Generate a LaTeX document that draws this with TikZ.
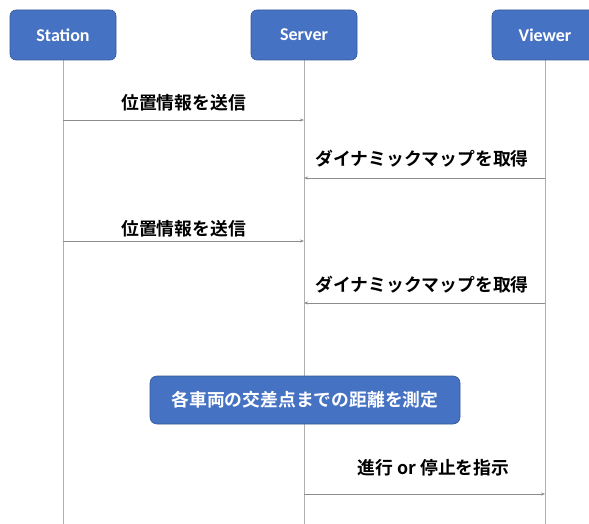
\documentclass[tikz,border=0pt]{standalone}
\usepackage{fontspec}
\setmainfont{Carlito}
\newfontfamily\jp{Noto Sans CJK JP Bold}
\newfontfamily\boxfont{Carlito Bold}
\usetikzlibrary{arrows.meta}
\definecolor{boxblue}{RGB}{70,114,196}
\definecolor{boxedge}{RGB}{52,88,150}
\definecolor{lifegray}{RGB}{175,175,175}
\definecolor{arrowgray}{RGB}{140,140,140}
\tikzset{
  actor/.style={draw=boxedge, line width=0.6pt, fill=boxblue, rounded corners=6pt,
    minimum width=106pt, minimum height=50pt, text=white, font=\boxfont\fontsize{18}{18}\selectfont, inner sep=0pt},
  lifeline/.style={draw=lifegray, line width=0.8pt},
  msg/.style={draw=arrowgray, line width=0.8pt, -{Stealth[length=4pt,width=3pt]}},
  msglabel/.style={font=\jp\fontsize{17.8}{17.8}\selectfont, text=black, inner sep=0pt},
  procbox/.style={draw=boxedge, line width=0.6pt, fill=boxblue, rounded corners=7pt,
    minimum width=310pt, minimum height=48pt, text=white, font=\jp\fontsize{17.8}{17.8}\selectfont, inner sep=0pt}
}
\begin{document}
\begin{tikzpicture}[x=1pt,y=-1pt]
\useasboundingbox (0,0) rectangle (589,524);
% lifelines
\coordinate (sb) at (63,524);
\coordinate (rb) at (304,524);
\coordinate (vb) at (545,524);
\draw[lifeline] (63,35) -- (sb);
\draw[lifeline] (304,35) -- (rb);
\draw[lifeline] (545,35) -- (vb);
% actors
\node[actor] (station) at (63,35) {Station};
\node[actor] (server) at (304,35) {Server};
\node[actor] (viewer) at (545,35) {Viewer};
% message anchor points
\coordinate (s1) at (63,120);  \coordinate (r1) at (304,120);
\coordinate (v2) at (545,178); \coordinate (r2) at (304,178);
\coordinate (s3) at (63,241);  \coordinate (r3) at (304,241);
\coordinate (v4) at (545,303); \coordinate (r4) at (304,303);
\coordinate (r5) at (304,494); \coordinate (v5) at (545,494);
% messages
\draw[msg] (s1) -- (r1);
\node[msglabel] (l1) at (183.5,103) {位置情報を送信};
\draw[msg] (v2) -- (r2);
\node[msglabel] (l2) at (422,159) {ダイナミックマップを取得};
\draw[msg] (s3) -- (r3);
\node[msglabel] (l3) at (183.5,229) {位置情報を送信};
\draw[msg] (v4) -- (r4);
\node[msglabel] (l4) at (422,285) {ダイナミックマップを取得};
% process box
\node[procbox] (proc) at (305,400) {各車両の交差点までの距離を測定};
% last message
\draw[msg] (r5) -- (v5);
\node[msglabel] (l5) at (433.5,468) {進行 or 停止を指示};
\end{tikzpicture}
\end{document}
